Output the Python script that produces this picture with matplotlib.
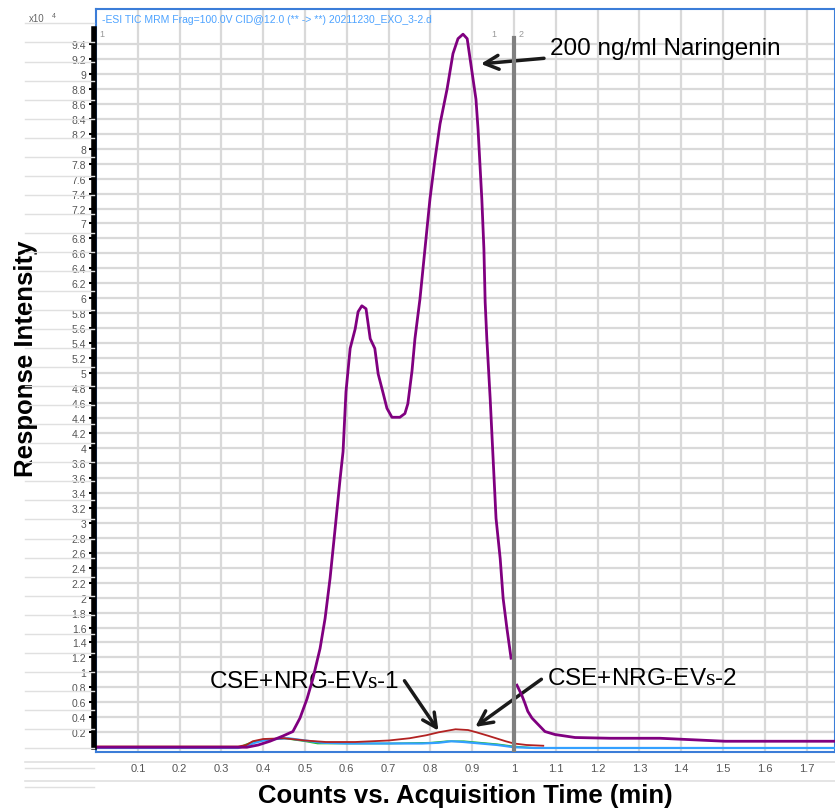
import numpy as np
import matplotlib
matplotlib.use('Agg')
import matplotlib.pyplot as plt
from matplotlib.lines import Line2D

plt.rcParams['font.family'] = ['Liberation Sans', 'DejaVu Sans']
plt.rcParams['mathtext.fontset'] = 'custom'
plt.rcParams['mathtext.rm'] = 'Liberation Serif'

# ---- data (x: min, y: x10^4 counts) ----
t_nrg = [0.0, 0.34, 0.361, 0.388, 0.416, 0.447, 0.471, 0.488, 0.505, 0.519, 0.536,
         0.548, 0.560, 0.572, 0.584, 0.591, 0.598, 0.608, 0.620, 0.627, 0.636,
         0.646, 0.656, 0.667, 0.675, 0.687, 0.696, 0.708, 0.727, 0.739, 0.746,
         0.756, 0.763, 0.775, 0.787, 0.799, 0.811, 0.823, 0.840, 0.854, 0.866,
         0.878, 0.888, 0.895, 0.902, 0.909, 0.914, 0.923, 0.928, 0.931, 0.935,
         0.943, 0.950, 0.957, 0.967, 0.974, 0.983, 0.993]
y_nrg = [0.0, 0.0, 0.0, 0.03, 0.08, 0.15, 0.21, 0.39, 0.65, 0.92, 1.32,
         1.72, 2.26, 2.92, 3.59, 3.95, 4.75, 5.33, 5.59, 5.82, 5.90,
         5.86, 5.46, 5.33, 4.99, 4.73, 4.53, 4.41, 4.41, 4.46, 4.59,
         5.03, 5.46, 5.99, 6.66, 7.33, 7.86, 8.33, 8.80, 9.27, 9.47,
         9.53, 9.47, 9.20, 8.93, 8.66, 8.26, 7.33, 6.66, 5.95, 5.46,
         4.66, 3.86, 3.06, 2.52, 1.99, 1.59, 1.19]
t_nrg_tail = [1.007, 1.019, 1.026, 1.033, 1.043, 1.055, 1.074, 1.098, 1.146,
              1.230, 1.349, 1.505, 1.768]
y_nrg_tail = [0.83, 0.69, 0.59, 0.48, 0.39, 0.32, 0.21, 0.17, 0.13,
              0.12, 0.12, 0.08, 0.08]

t_red = [0.0, 0.34, 0.36, 0.375, 0.40, 0.45, 0.50, 0.55, 0.62, 0.70, 0.75,
         0.79, 0.82, 0.86, 0.89, 0.91, 0.94, 0.98, 1.00, 1.03, 1.07]
y_red = [0.01, 0.01, 0.03, 0.08, 0.11, 0.12, 0.09, 0.07, 0.07, 0.09, 0.12,
         0.16, 0.20, 0.24, 0.23, 0.20, 0.15, 0.08, 0.05, 0.03, 0.02]

t_green = [0.0, 0.34, 0.36, 0.38, 0.41, 0.45, 0.50, 0.53, 0.60, 0.70, 0.80,
           0.84, 0.88, 0.92, 0.96, 1.00, 1.05, 1.768]
y_green = [-0.01, -0.01, 0.04, 0.08, 0.10, 0.12, 0.08, 0.05, 0.05, 0.05, 0.06,
           0.08, 0.08, 0.06, 0.04, 0.01, -0.01, -0.01]

t_blue = [0.0, 0.34, 0.36, 0.38, 0.40, 0.43, 0.46, 0.50, 0.54, 0.60, 0.70,
          0.78, 0.82, 0.85, 0.88, 0.92, 0.96, 1.00, 1.05, 1.768]
y_blue = [-0.01, -0.01, 0.02, 0.06, 0.09, 0.11, 0.12, 0.09, 0.06, 0.05, 0.05,
          0.05, 0.06, 0.08, 0.07, 0.05, 0.03, 0.0, -0.01, -0.01]

y_ticks = np.round(np.arange(0.2, 9.41, 0.2), 1)
x_ticks = np.round(np.arange(0.1, 1.71, 0.1), 1)
cursor_t = 1.0

fig = plt.figure(figsize=(8.35, 8.12), dpi=100)
ax = fig.add_axes([0.115, 0.073, 0.885, 0.915])
ax.set_xlim(0, 1.768)
ax.set_ylim(-0.06, 9.87)

# background grid
ax.set_xticks(x_ticks)
ax.set_yticks(y_ticks)
ax.grid(True, color='#d9d9d9', lw=1.6, zorder=0)
for yy in np.arange(0.03, 0.99, 0.0235):
    fig.add_artist(Line2D([0.03, 0.112], [yy, yy], color='#e0e0e0', lw=1))
for yy in [0.06, 0.037]:
    fig.add_artist(Line2D([0.03, 1.0], [yy, yy], color='#e0e0e0', lw=1.2))

ax.plot(t_blue, y_blue, color='#33a0ff', lw=1.6, zorder=3)
ax.plot(t_green, y_green, color='#22bb22', lw=1.2, zorder=2)
ax.plot(t_red, y_red, color='#b22222', lw=1.3, zorder=3)
ax.plot(t_nrg, y_nrg, color='#800080', lw=2, zorder=4)
ax.plot(t_nrg_tail, y_nrg_tail, color='#800080', lw=2, zorder=4)

ax.axvline(cursor_t, ymin=0.0, ymax=0.96, color='#808080', lw=3, zorder=5)
ax.plot([-0.005, -0.005], [0, 9.6], color='black', lw=4, clip_on=False, zorder=6)

for s in ax.spines.values():
    s.set_color('#3b7dd8')
    s.set_linewidth(1.5)

ax.tick_params(axis='y', direction='out', length=5, width=1.5, color='black',
               labelsize=7.5, labelcolor='#555555', pad=2)
ax.tick_params(axis='x', length=0, labelsize=8, labelcolor='#555555', pad=8)
ax.set_yticklabels(['%g' % v for v in y_ticks])
ax.set_xticklabels(['%g' % v for v in x_ticks])

fig.text(0.035, 0.973, 'x10', fontsize=7, color='#666666')
fig.text(0.062, 0.978, '4', fontsize=5, color='#666666')
fig.text(0.122, 0.972, '-ESI TIC MRM Frag=100.0V CID@12.0 (** -> **) 20211230_EXO_3-2.d',
         fontsize=7.5, color='#4da3ff')
ax.text(0.008, 9.5, '1', fontsize=6.5, color='#999999')
ax.text(0.945, 9.5, '1', fontsize=6.5, color='#999999')
ax.text(1.01, 9.5, '2', fontsize=6.5, color='#999999')

narrow = ['Liberation Sans Narrow', 'Liberation Sans', 'DejaVu Sans']
ax.set_ylabel('Response Intensity', fontsize=18.5, fontweight='bold', family=narrow)
ax.yaxis.set_label_coords(-0.078, 0.53)
ax.set_xlabel('Counts vs. Acquisition Time (min)', fontsize=18.5, fontweight='bold',
              family=narrow, labelpad=7)

ap = dict(arrowstyle='->', color='#1a1a1a', lw=2.5, mutation_scale=25)
ax.annotate('200 ng/ml Naringenin', xy=(0.914, 9.13), xytext=(1.085, 9.35),
            fontsize=17.5, va='center', ha='left', arrowprops=ap)
ax.annotate(r'CSE+NRG-EV$\mathrm{s}$-1', xy=(0.823, 0.19), xytext=(0.27, 0.89),
            fontsize=17.5, va='center', ha='left', arrowprops=dict(ap, relpos=(1.02, 0.6)))
ax.annotate(r'CSE+NRG-EV$\mathrm{s}$-2', xy=(0.902, 0.25), xytext=(1.08, 0.93),
            fontsize=17.5, va='center', ha='left', arrowprops=dict(ap, relpos=(-0.02, 0.5)))

fig.savefig('out.png', dpi=100)
